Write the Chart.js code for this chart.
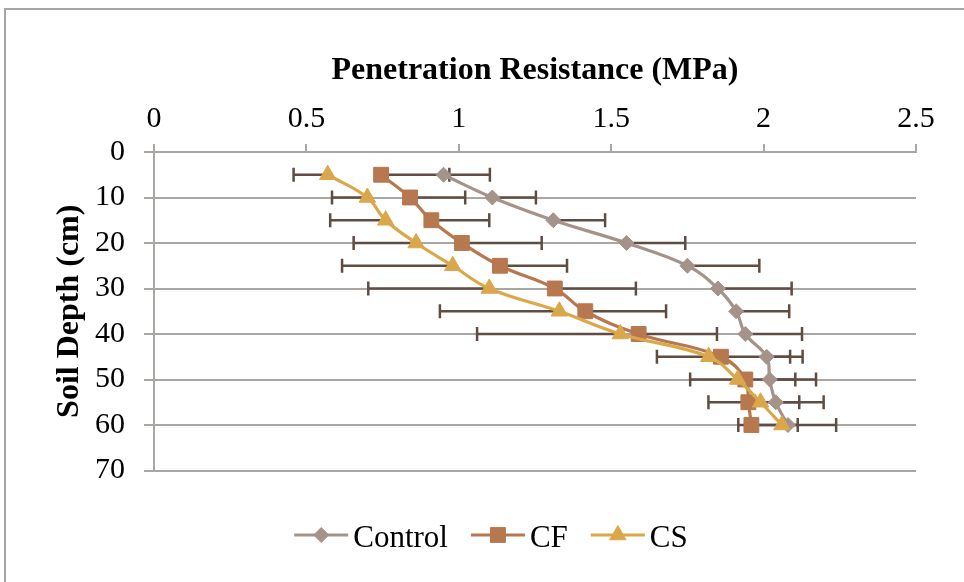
<!DOCTYPE html>
<html>
<head>
<meta charset="utf-8">
<title>Penetration Resistance</title>
<script src="https://cdn.jsdelivr.net/npm/chart.js@4.4.0/dist/chart.umd.min.js"></script>
<style>
  body { margin: 0; background: #fff; }
  #wrap { position: relative; width: 964px; height: 582px; overflow: hidden; }
  #frame { position: absolute; left: 4px; top: 8px; width: 1000px; height: 700px;
           border-top: 2px solid #a9a5a3; border-left: 2px solid #a9a5a3; }
  #chart { position: absolute; left: 0; top: 0; }
</style>
</head>
<body>
<div id="wrap">
  <div id="frame"></div>
  <canvas id="chart" width="964" height="582"></canvas>
</div>
<script>
// soil depth (cm) and penetration resistance (MPa) per treatment
const depths = [5, 10, 15, 20, 25, 30, 35, 40, 45, 50, 55, 60];
const control = [0.95, 1.11, 1.31, 1.55, 1.75, 1.85, 1.91, 1.94, 2.01, 2.02, 2.04, 2.08];
const cf = [0.745, 0.84, 0.91, 1.01, 1.135, 1.315, 1.415, 1.59, 1.86, 1.94, 1.95, 1.96];
const cs = [0.57, 0.70, 0.76, 0.86, 0.98, 1.10, 1.33, 1.53, 1.82, 1.915, 1.99, 2.06];

// one-sided error bars (Control and CF plus, CS minus)
const controlErr = [0.152, 0.143, 0.17, 0.193, 0.236, 0.242, 0.174, 0.186, 0.077, 0.084, 0.077, 0.032];
const cfErr = [0.224, 0.181, 0.19, 0.262, 0.22, 0.266, 0.265, 0.257, 0.268, 0.232, 0.247, 0.278];
const csErr = [0.112, 0.116, 0.182, 0.205, 0.363, 0.397, 0.392, 0.47, 0.17, 0.156, 0.171, 0.143];

const xTicks = [0, 0.5, 1, 1.5, 2, 2.5];
const yTicks = [0, 10, 20, 30, 40, 50, 60, 70];

const FONT = "'Liberation Serif', 'Times New Roman', serif";
const GRID = '#aaa6a3';

function toPoints(vals) {
  return vals.map((v, i) => ({ x: v, y: depths[i] }));
}

// horizontal error bars under the markers
const errorBars = {
  id: 'errorBars',
  beforeDatasetsDraw(chart) {
    const ctx = chart.ctx;
    const xs = chart.scales.x, ys = chart.scales.y;
    ctx.save();
    ctx.strokeStyle = '#5f4c43';
    ctx.lineWidth = 2.5;
    chart.data.datasets.forEach(ds => {
      ds.data.forEach((p, i) => {
        const y = ys.getPixelForValue(p.y);
        const x0 = xs.getPixelForValue(p.x);
        const x1 = xs.getPixelForValue(p.x + ds.errDir * ds.errors[i]);
        ctx.beginPath();
        ctx.moveTo(x0, y);
        ctx.lineTo(x1, y);
        ctx.moveTo(x1, y - 7);
        ctx.lineTo(x1, y + 7);
        ctx.stroke();
      });
    });
    ctx.restore();
  }
};

// legend drawn as line + marker + label
const lineLegend = {
  id: 'lineLegend',
  afterDraw(chart) {
    const ctx = chart.ctx;
    const y = 535;
    const lineW = 54, gap = 5, itemGap = 23;
    ctx.save();
    ctx.font = '31px ' + FONT;
    ctx.textBaseline = 'middle';
    ctx.fillStyle = '#000';
    const items = chart.data.datasets.map(ds => ({ ds, w: ctx.measureText(ds.label).width }));
    const total = items.reduce((s, it) => s + lineW + gap + it.w, 0) + itemGap * (items.length - 1);
    let x = 491 - total / 2;
    items.forEach(({ ds, w }) => {
      ctx.strokeStyle = ds.borderColor;
      ctx.lineWidth = 3;
      ctx.beginPath();
      ctx.moveTo(x, y);
      ctx.lineTo(x + lineW, y);
      ctx.stroke();
      ctx.fillStyle = ds.pointBackgroundColor;
      ctx.strokeStyle = ds.pointBackgroundColor;
      ctx.lineWidth = 1;
      Chart.helpers.drawPoint(ctx, { pointStyle: ds.pointStyle, radius: ds.pointRadius, rotation: 0, borderWidth: 1 }, x + lineW / 2, y);
      ctx.fillStyle = '#000';
      ctx.fillText(ds.label, x + lineW + gap, y + 4);
      x += lineW + gap + w + itemGap;
    });
    ctx.restore();
  }
};

function series(label, vals, errs, dir, color, style, radius, order) {
  return {
    label,
    data: toPoints(vals),
    errors: errs,
    errDir: dir,
    borderColor: color,
    backgroundColor: color,
    pointBackgroundColor: color,
    pointBorderColor: color,
    pointBorderWidth: 1,
    pointStyle: style,
    pointRadius: radius,
    borderWidth: 3.2,
    tension: 0.4,
    fill: false,
    order
  };
}

new Chart(document.getElementById('chart'), {
  type: 'line',
  data: {
    datasets: [
      series('Control', control, controlErr, 1, '#a4938b', 'rectRot', 7.5, 2),
      series('CF', cf, cfErr, 1, '#b7784f', 'rect', 10.5, 1),
      series('CS', cs, csErr, -1, '#daa84b', 'triangle', 9.5, 0)
    ]
  },
  options: {
    responsive: false,
    animation: false,
    events: [],
    layout: { padding: { left: 0, top: 0, right: 48, bottom: 111.5 } },
    plugins: { legend: { display: false }, tooltip: { enabled: false } },
    scales: {
      x: {
        type: 'linear',
        position: 'top',
        min: xTicks[0],
        max: xTicks[xTicks.length - 1],
        afterBuildTicks: s => { s.ticks = xTicks.map(v => ({ value: v })); },
        afterFit: s => { s.height = 152; },
        ticks: {
          color: '#000', padding: 7, font: { family: FONT, size: 30 },
          callback: v => String(v)
        },
        grid: { drawOnChartArea: false, tickLength: 8, color: GRID, lineWidth: 2 },
        border: { color: GRID, width: 2 },
        title: {
          display: true,
          text: 'Penetration Resistance (MPa)',
          color: '#000',
          font: { family: FONT, size: 32, weight: 'bold' },
          padding: { top: 52, bottom: 0 }
        }
      },
      y: {
        type: 'linear',
        reverse: true,
        min: yTicks[0],
        max: yTicks[yTicks.length - 1],
        afterBuildTicks: s => { s.ticks = yTicks.map(v => ({ value: v })); },
        afterFit: s => { s.width = 154; },
        ticks: { color: '#000', padding: 19, font: { family: FONT, size: 30 } },
        grid: { tickLength: 10, color: GRID, lineWidth: 2 },
        border: { color: GRID, width: 2 },
        title: {
          display: true,
          text: 'Soil Depth (cm)',
          color: '#000',
          font: { family: FONT, size: 32, weight: 'bold' },
          padding: { top: 51, bottom: 0 }
        }
      }
    }
  },
  plugins: [errorBars, lineLegend]
});
</script>
</body>
</html>
